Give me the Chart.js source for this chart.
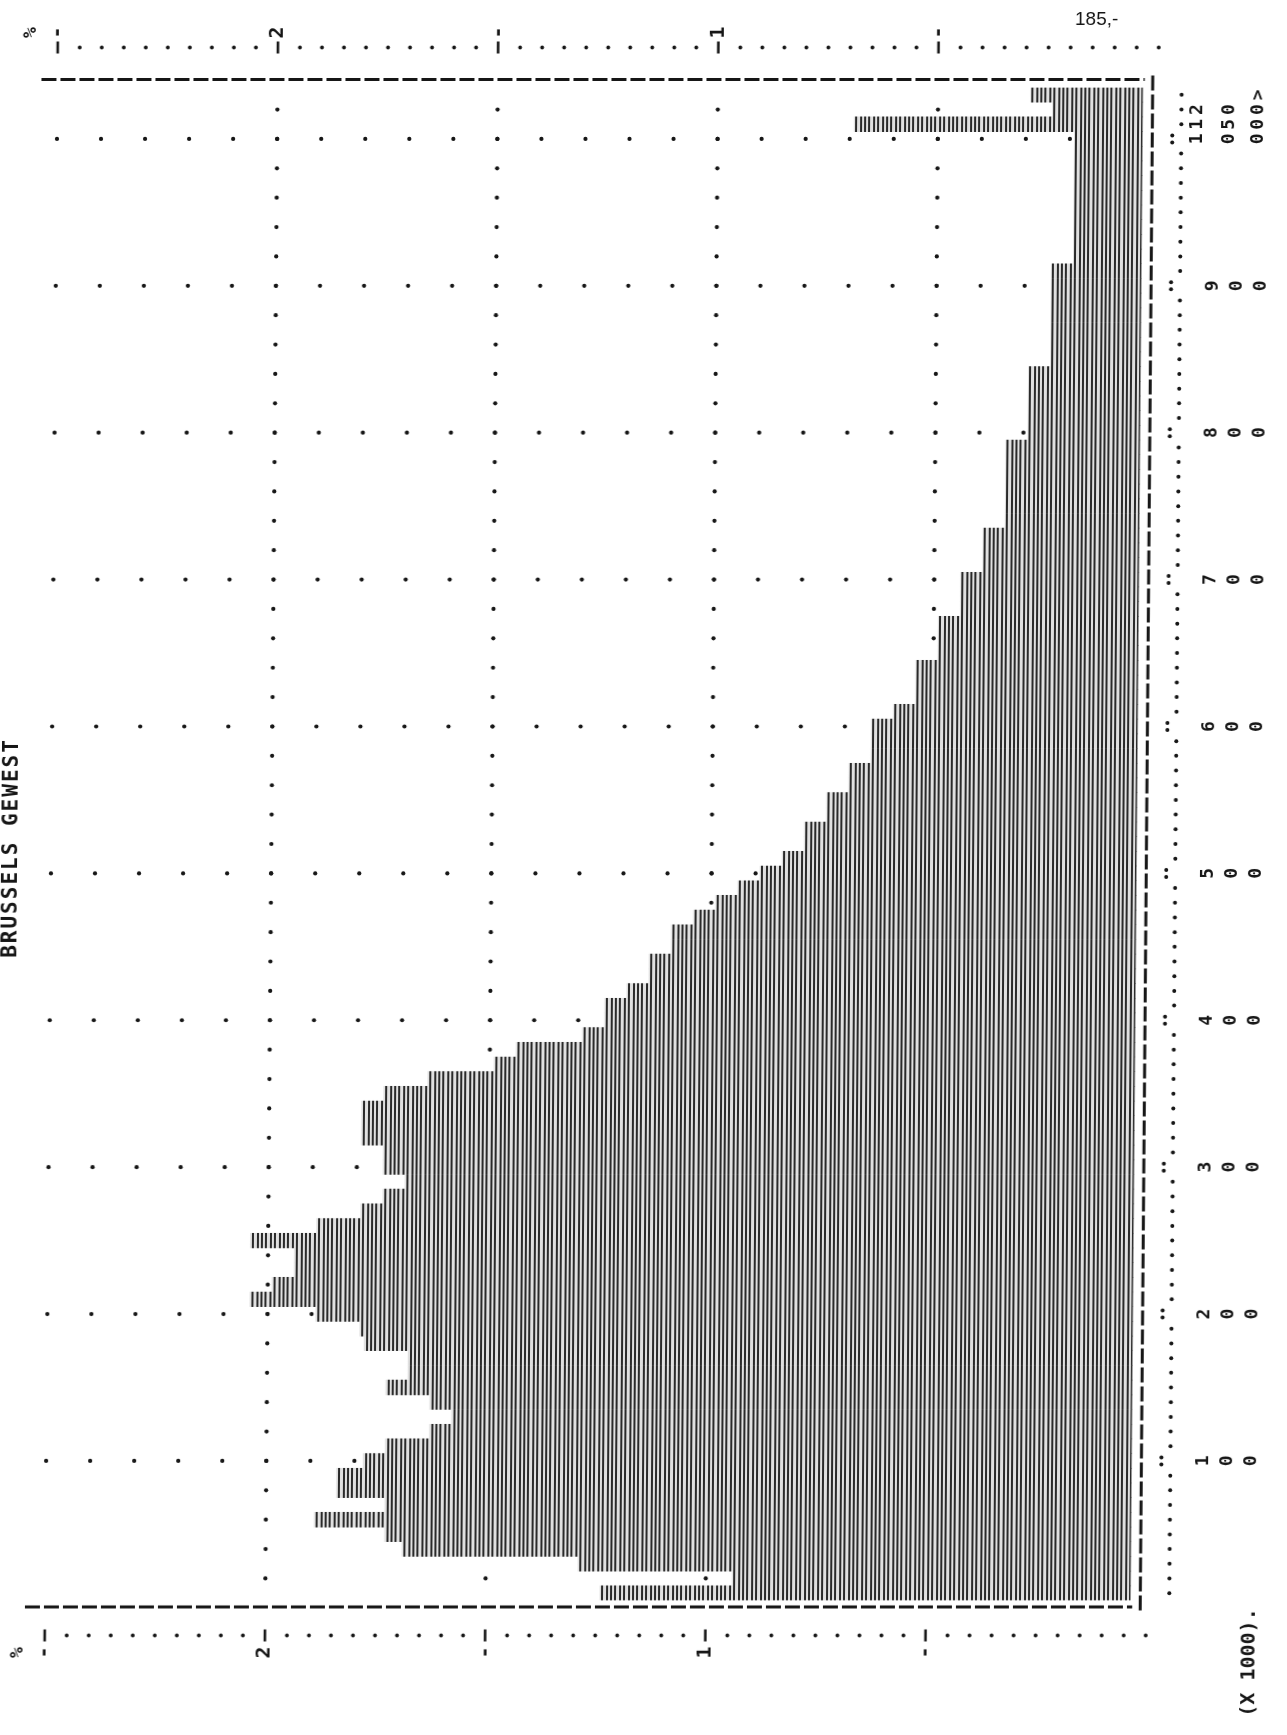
<!DOCTYPE html>
<html><head><meta charset="utf-8">
<script src="https://cdn.jsdelivr.net/npm/chart.js@4.4.1/dist/chart.umd.min.js"></script>
<style>
html,body{margin:0;padding:0;background:#fff;}
#wrap{width:1287px;height:1735px;position:relative;overflow:hidden;background:#fff;}
canvas{display:block;transform:skewX(-0.47deg);transform-origin:50% 50%;}
</style></head><body><div id="wrap"><canvas id="c" width="1287" height="1735"></canvas></div>
<script>
// ---- data ----
const incomeClasses = Array.from({length:100},(_, i)=> (i*10)+"-"+((i+1)*10)).concat(["1000-1500","1500-2000",">2000"]);
const sharePct = [
 1.24, 0.94, 1.29, 1.69, 1.73, 1.89, 1.73, 1.84, 1.84, 1.78,
 1.73, 1.63, 1.58, 1.63, 1.73, 1.68, 1.68, 1.78, 1.79, 1.89,
 2.04, 1.99, 1.94, 1.94, 2.04, 1.89, 1.79, 1.74, 1.69, 1.74,
 1.74, 1.79, 1.79, 1.79, 1.74, 1.64, 1.49, 1.44, 1.29, 1.24,
 1.24, 1.19, 1.14, 1.14, 1.09, 1.09, 1.04, 0.99, 0.94, 0.89,
 0.84, 0.79, 0.79, 0.74, 0.74, 0.69, 0.69, 0.64, 0.64, 0.64,
 0.59, 0.54, 0.54, 0.54, 0.49, 0.49, 0.49, 0.44, 0.44, 0.44,
 0.39, 0.39, 0.39, 0.34, 0.34, 0.34, 0.34, 0.34, 0.34, 0.29,
 0.29, 0.29, 0.29, 0.29, 0.24, 0.24, 0.24, 0.24, 0.24, 0.24,
 0.24, 0.19, 0.19, 0.19, 0.19, 0.19, 0.19, 0.19, 0.19, 0.19,
 0.69, 0.24, 0.29
];
const classTickIndex  = [9, 19, 29, 39, 49, 59, 69, 79, 89, 99, 100, 101, 102];
const classTickLabels = ["100","200","300","400","500","600","700","800","900","100","150","200","  >"];
const valueTicks      = [2.5, 2.0, 1.5, 1.0, 0.5];
const valueTickLabels = ["-", "2", "-", "1", "-"];
const gridValues      = [2.0, 1.5, 1.0, 0.5];
const unitLabel = "%";
const classAxisTitle = "(X 1000).";
const chartTitle = "BRUSSELS GEWEST";
const pageNumber = "185,-";

// ---- drawing helpers ----
const INK = '#161616';
const MONO = 'bold 18px "DejaVu Sans Mono"';
function dot(ctx,x,y,r){ctx.beginPath();ctx.arc(x,y,r,0,Math.PI*2);ctx.fill();}
function seg(ctx,x1,y1,x2,y2){ctx.beginPath();ctx.moveTo(x1,y1);ctx.lineTo(x2,y2);ctx.stroke();}
function rtext(ctx,s,x,y,font,spacing){ctx.save();ctx.translate(x,y);ctx.rotate(-Math.PI/2);ctx.font=font;
  if(spacing) ctx.letterSpacing=spacing;
  ctx.textAlign='center';ctx.textBaseline='middle';ctx.fillText(s,0,0);ctx.restore();}

function hatchPattern(ctx){
  const c=document.createElement('canvas'); c.width=22; c.height=8;
  const g=c.getContext('2d');
  g.fillStyle='#e0e0e0'; g.fillRect(0,0,22,8);
  g.fillStyle='#2a2a2a'; [0,4,9,13,18].forEach(x=>g.fillRect(x,0,2,8));
  return ctx.createPattern(c,'repeat');
}

const printerPlugin = {
  id:'printer',
  beforeDatasetsDraw(chart){
    const {ctx, scales:{x:xs, y:ys}} = chart;
    ctx.save(); ctx.fillStyle=INK;
    gridValues.forEach(v=>{
      const px=xs.getPixelForValue(v);
      for(let k=1;k<incomeClasses.length;k+=2) dot(ctx,px,ys.getPixelForValue(k),2.1);
    });
    classTickIndex.filter(k=>k<=99).forEach(k=>{
      const py=ys.getPixelForValue(k);
      for(let j=1;j<=25;j++) dot(ctx,xs.getPixelForValue(j/10),py,2.1);
    });
    ctx.restore();
  },
  afterDatasetsDraw(chart){
    const {ctx, chartArea:a, scales:{x:xs, y:ys}} = chart;
    ctx.save();
    ctx.strokeStyle=INK; ctx.fillStyle=INK;
    const yTop=a.top-8, yBot=a.bottom+6.5, xR=xs.getPixelForValue(0.013);
    ctx.lineWidth=3; ctx.setLineDash([15,4]);
    seg(ctx,a.left-16,yTop,xR-8,yTop);
    seg(ctx,a.left-20,yBot,xR-8,yBot);
    seg(ctx,xR,yTop-4,xR,yBot+4);
    ctx.setLineDash([]);
    for(let k=0;k<incomeClasses.length;k++){
      const py=ys.getPixelForValue(k);
      if(classTickIndex.includes(k) && k<=99){dot(ctx,xR+20,py-3.5,2);dot(ctx,xR+20,py+3.5,2);}
      else dot(ctx,xR+29,py,2);
    }
    classTickIndex.forEach((k,i)=>{
      const py=ys.getPixelForValue(k), s=classTickLabels[i];
      const cols = k<=89 ? [xR+62,xR+86,xR+110] : [xR+45,xR+77,xR+106];
      for(let c=0;c<s.length;c++) if(s[c]!==' ') rtext(ctx,s[c],cols[c],py,MONO);
    });
    rtext(ctx,classAxisTitle,xR+110,a.bottom+62,'bold 20px "DejaVu Sans Mono"');
    [[a.top-40,a.top-55],[a.bottom+35,a.bottom+52]].forEach(([ty,ly])=>{
      for(let j=0;j<=50;j++){
        const px=xs.getPixelForValue(j*0.05);
        if(j%10===0 && j>0){ctx.lineWidth=2.6; seg(ctx,px,ty-6,px,ty+6);}
        else dot(ctx,px,ty,1.9);
      }
      valueTicks.forEach((v,i)=>rtext(ctx,valueTickLabels[i],xs.getPixelForValue(v),ly,'bold 20px "DejaVu Sans Mono"'));
      rtext(ctx,unitLabel,xs.getPixelForValue(2.5)-27,ly,MONO);
    });
    // title at the page's left edge (printout is turned a quarter turn)
    rtext(ctx,chartTitle,12,(a.top+a.bottom)/2+4,'bold 21px "DejaVu Sans Mono"','2px');
    ctx.font='19px "Liberation Sans"'; ctx.textAlign='left'; ctx.textBaseline='alphabetic';
    ctx.fillText(pageNumber,1068,25);
    ctx.restore();
  }
};

const ctx=document.getElementById('c').getContext('2d');
new Chart(ctx,{
  type:'bar',
  data:{labels:incomeClasses,datasets:[{data:sharePct,backgroundColor:hatchPattern(ctx),borderWidth:0,
    barPercentage:1,categoryPercentage:1,base:0.036}]},
  options:{
    indexAxis:'y',responsive:false,animation:false,devicePixelRatio:1,
    layout:{padding:{left:51,top:87.5,right:0,bottom:0}},
    plugins:{legend:{display:false},tooltip:{enabled:false},title:{display:false}},
    scales:{
      x:{type:'linear',min:0,max:2.5,reverse:true,position:'bottom',
         grid:{display:false},border:{display:false},ticks:{display:false},
         afterFit:s=>{s.height=1735-1600.5;}},
      y:{type:'category',position:'right',reverse:true,offset:true,
         grid:{display:false},border:{display:false},ticks:{display:false},
         afterFit:s=>{s.width=1287-1152;}}
    }
  },
  plugins:[printerPlugin]
});
</script></body></html>
